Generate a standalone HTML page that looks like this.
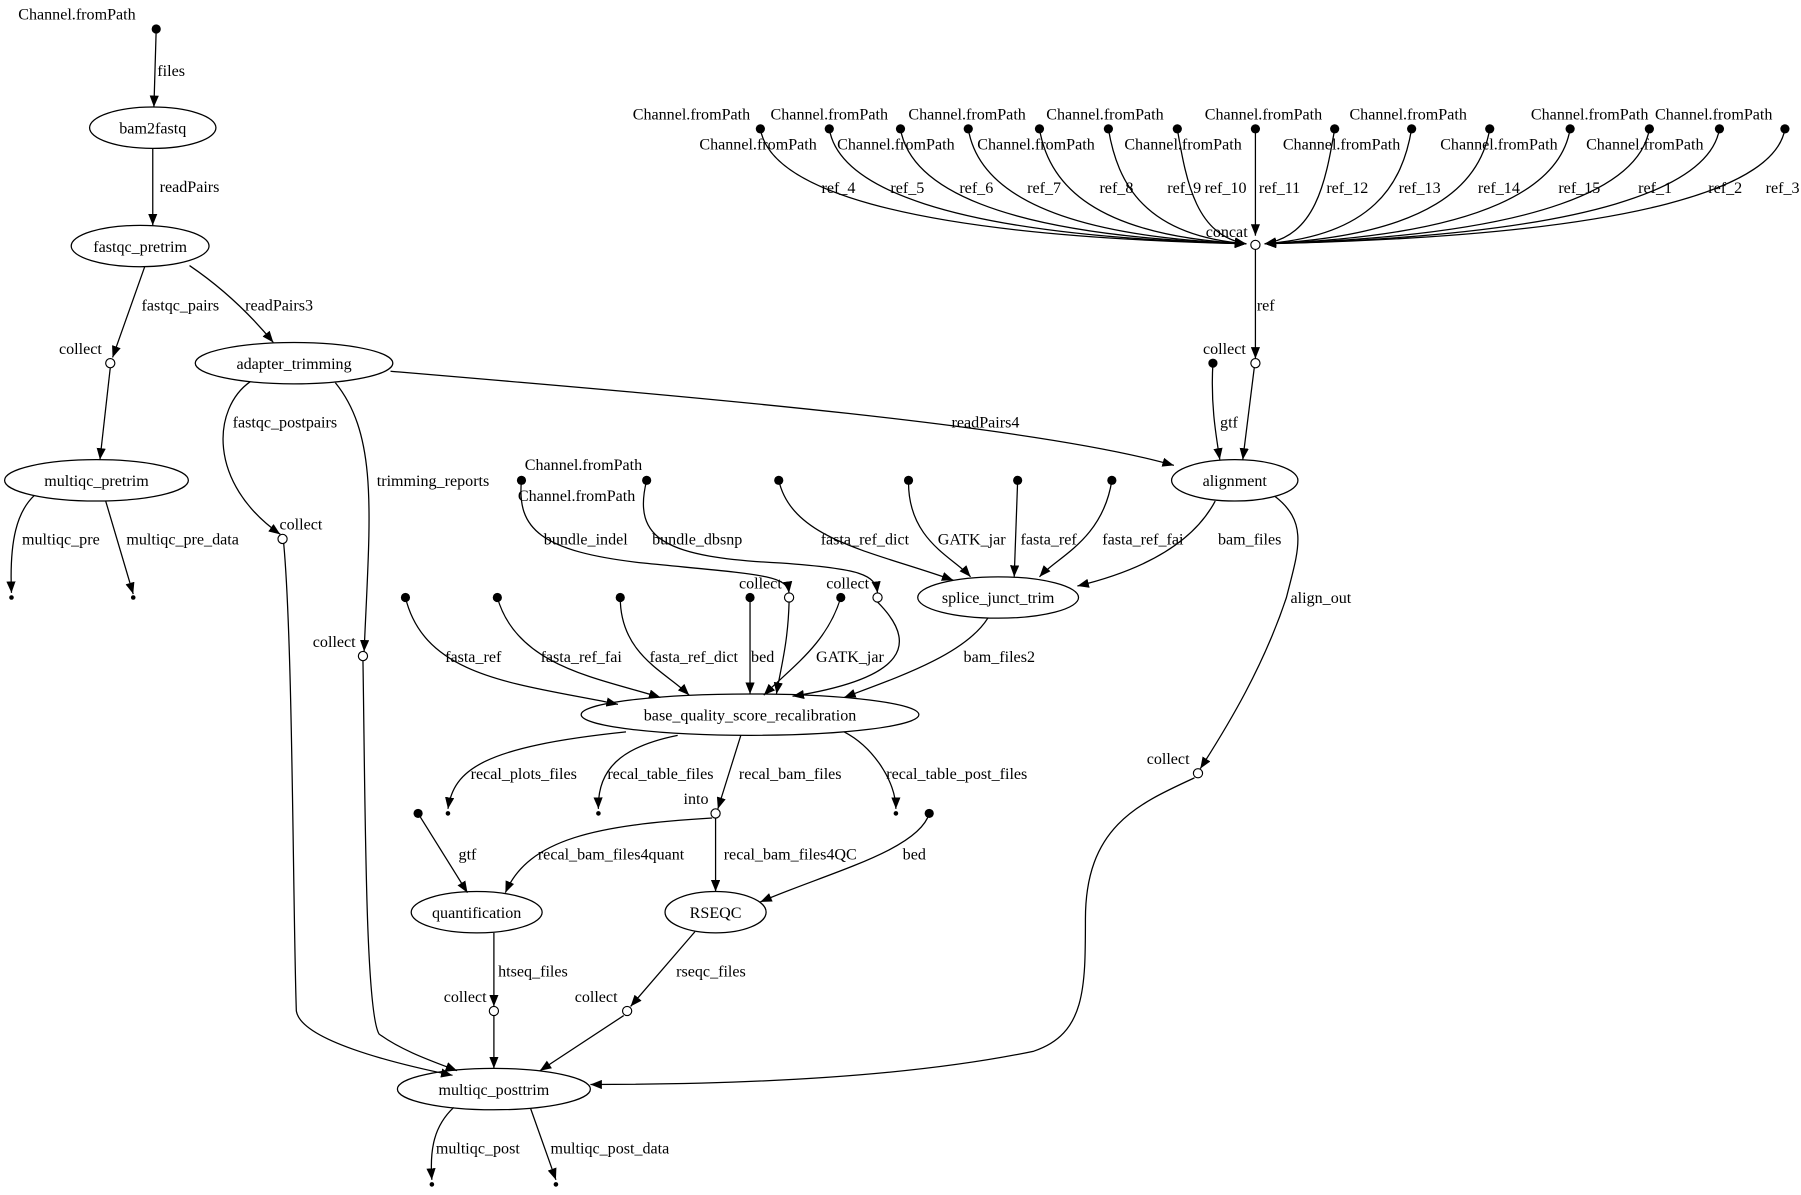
<!DOCTYPE html>
<html><head><meta charset="utf-8"><style>
html,body{margin:0;padding:0;background:#fff;}
svg{display:block;}
text{font-family:"Liberation Serif",serif;font-size:14px;fill:#000;text-anchor:middle;}
.e{fill:none;stroke:#000;stroke-width:1.1;}
.n{fill:none;stroke:#000;stroke-width:1.1;}
</style></head><body>
<svg id="s" width="1801" height="1195" viewBox="0 0 1568 1040" xmlns="http://www.w3.org/2000/svg">
<defs><marker id="a" markerUnits="userSpaceOnUse" markerWidth="11" markerHeight="8" refX="10" refY="4" orient="auto"><path d="M0,0 L10,4 L0,8 z" fill="#000"/></marker></defs>
<g id="edges">
<path class="e" marker-end="url(#a)" d="M136,25 L134,93"/>
<path class="e" marker-end="url(#a)" d="M133,129 L133,196"/>
<path class="e" marker-end="url(#a)" d="M126,232 L98,311"/>
<path class="e" marker-end="url(#a)" d="M165,231 C190,248 215,270 238,298"/>
<path class="e" marker-end="url(#a)" d="M96,320 L87,400"/>
<path class="e" marker-end="url(#a)" d="M30,431 C15,445 8,470 10,516"/>
<path class="e" marker-end="url(#a)" d="M92,436 L116,517"/>
<path class="e" marker-end="url(#a)" d="M218,332 C185,355 180,420 244,465"/>
<path class="e" marker-end="url(#a)" d="M292,333 C330,380 322,450 317,567"/>
<path class="e" marker-end="url(#a)" d="M340,323 C600,345 900,370 1022,405"/>
<path class="e" marker-end="url(#a)" d="M247,473 C255,560 255,790 258,880 C262,905 340,925 394,936"/>
<path class="e" marker-end="url(#a)" d="M316,575 C318,700 318,880 330,900 C350,915 380,925 398,932"/>
<path class="e" marker-end="url(#a)" d="M430,812 L430,876"/>
<path class="e" marker-end="url(#a)" d="M430,884 L430,930"/>
<path class="e" marker-end="url(#a)" d="M605,811 L549,876"/>
<path class="e" marker-end="url(#a)" d="M543,884 L470,932"/>
<path class="e" marker-end="url(#a)" d="M1040,677 C990,700 945,720 945,800 C945,860 945,900 900,915 C780,940 620,944 514,944"/>
<path class="e" marker-end="url(#a)" d="M1110,432 C1140,455 1130,480 1120,520 C1100,580 1070,630 1045,669"/>
<path class="e" marker-end="url(#a)" d="M1058,436 C1040,470 1000,495 938,510"/>
<path class="e" marker-end="url(#a)" d="M1093,217 L1093,312"/>
<path class="e" marker-end="url(#a)" d="M1092,320 L1082,400"/>
<path class="e" marker-end="url(#a)" d="M1056,316 C1054,350 1058,375 1062,400"/>
<path class="e" marker-end="url(#a)" d="M678,418 C690,470 760,480 830,505"/>
<path class="e" marker-end="url(#a)" d="M791,418 C790,470 830,485 845,502"/>
<path class="e" marker-end="url(#a)" d="M886,418 L883,502"/>
<path class="e" marker-end="url(#a)" d="M968,418 C960,470 920,485 905,502"/>
<path class="e" marker-end="url(#a)" d="M454,418 C450,460 470,480 560,490 C660,500 685,500 687,516"/>
<path class="e" marker-end="url(#a)" d="M563,418 C550,470 580,485 680,490 C750,495 762,500 764,516"/>
<path class="e" marker-end="url(#a)" d="M860,538 C840,570 780,590 735,607"/>
<path class="e" marker-end="url(#a)" d="M687,524 C686,560 680,580 676,604"/>
<path class="e" marker-end="url(#a)" d="M764,524 C800,560 790,590 690,606"/>
<path class="e" marker-end="url(#a)" d="M353,520 C370,590 450,595 538,613"/>
<path class="e" marker-end="url(#a)" d="M433,520 C450,580 520,590 575,607"/>
<path class="e" marker-end="url(#a)" d="M540,520 C540,570 580,585 600,605"/>
<path class="e" marker-end="url(#a)" d="M653,520 L653,604"/>
<path class="e" marker-end="url(#a)" d="M732,520 C720,560 690,580 665,605"/>
<path class="e" marker-end="url(#a)" d="M545,637 C420,650 395,670 390,704"/>
<path class="e" marker-end="url(#a)" d="M590,640 C540,650 520,670 521,704"/>
<path class="e" marker-end="url(#a)" d="M645,640 L625,704"/>
<path class="e" marker-end="url(#a)" d="M735,637 C760,650 780,680 780,704"/>
<path class="e" marker-end="url(#a)" d="M620,712 C520,718 460,730 440,777"/>
<path class="e" marker-end="url(#a)" d="M623,712 L623,776"/>
<path class="e" marker-end="url(#a)" d="M364,708 L407,777"/>
<path class="e" marker-end="url(#a)" d="M809,708 C800,740 720,760 662,785"/>
<path class="e" marker-end="url(#a)" d="M395,964 C378,980 374,1000 376,1027"/>
<path class="e" marker-end="url(#a)" d="M462,965 L484,1027"/>
</g>
<g id="fan"></g>
<g id="nodes">
<ellipse class="n" cx="133" cy="111" rx="55" ry="18"/>
<ellipse class="n" cx="122" cy="214" rx="60" ry="18"/>
<ellipse class="n" cx="256" cy="316" rx="86" ry="18"/>
<ellipse class="n" cx="84" cy="418" rx="80" ry="18"/>
<ellipse class="n" cx="430" cy="948" rx="84" ry="18"/>
<ellipse class="n" cx="1075" cy="418" rx="55" ry="18"/>
<ellipse class="n" cx="869" cy="520" rx="70" ry="18"/>
<ellipse class="n" cx="653" cy="622" rx="147" ry="18"/>
<ellipse class="n" cx="415" cy="794" rx="57" ry="18"/>
<ellipse class="n" cx="623" cy="794" rx="44" ry="18"/>
<g fill="#000">
<circle cx="136" cy="25" r="4"/><circle cx="1056" cy="316" r="4"/>
<circle cx="454" cy="418" r="4"/><circle cx="563" cy="418" r="4"/><circle cx="678" cy="418" r="4"/><circle cx="791" cy="418" r="4"/><circle cx="886" cy="418" r="4"/><circle cx="968" cy="418" r="4"/>
<circle cx="353" cy="520" r="4"/><circle cx="433" cy="520" r="4"/><circle cx="540" cy="520" r="4"/><circle cx="653" cy="520" r="4"/><circle cx="732" cy="520" r="4"/>
<circle cx="364" cy="708" r="4"/><circle cx="809" cy="708" r="4"/>
<circle cx="10" cy="520" r="2"/><circle cx="116" cy="520" r="2"/><circle cx="390" cy="708" r="2"/><circle cx="521" cy="708" r="2"/><circle cx="780" cy="708" r="2"/><circle cx="376" cy="1031" r="2"/><circle cx="484" cy="1031" r="2"/>
</g>
<g fill="#fff" stroke="#000" stroke-width="1">
<circle cx="96" cy="316" r="4"/><circle cx="246" cy="469" r="4"/><circle cx="316" cy="571" r="4"/><circle cx="1093" cy="316" r="4"/><circle cx="687" cy="520" r="4"/><circle cx="764" cy="520" r="4"/><circle cx="1043" cy="673" r="4"/><circle cx="623" cy="708" r="4"/><circle cx="430" cy="880" r="4"/><circle cx="546" cy="880" r="4"/>
</g>
</g>
<g id="labels">
<text x="67" y="17">Channel.fromPath</text>
<text x="133" y="116">bam2fastq</text>
<text x="122" y="219">fastqc_pretrim</text>
<text x="256" y="321">adapter_trimming</text>
<text x="84" y="423">multiqc_pretrim</text>
<text x="430" y="953">multiqc_posttrim</text>
<text x="1075" y="423">alignment</text>
<text x="869" y="525">splice_junct_trim</text>
<text x="653" y="627">base_quality_score_recalibration</text>
<text x="415" y="799">quantification</text>
<text x="623" y="799">RSEQC</text>
<text x="149" y="66">files</text>
<text x="165" y="167">readPairs</text>
<text x="157" y="270">fastqc_pairs</text>
<text x="243" y="270">readPairs3</text>
<text x="70" y="308">collect</text>
<text x="248" y="372">fastqc_postpairs</text>
<text x="377" y="423">trimming_reports</text>
<text x="262" y="461">collect</text>
<text x="291" y="563">collect</text>
<text x="53" y="474">multiqc_pre</text>
<text x="159" y="474">multiqc_pre_data</text>
<text x="858" y="372">readPairs4</text>
<text x="1066" y="308">collect</text>
<text x="1102" y="270">ref</text>
<text x="1070" y="372">gtf</text>
<text x="1068" y="206">concat</text>
<text x="508" y="409">Channel.fromPath</text>
<text x="502" y="436">Channel.fromPath</text>
<text x="510" y="474">bundle_indel</text>
<text x="607" y="474">bundle_dbsnp</text>
<text x="753" y="474">fasta_ref_dict</text>
<text x="846" y="474">GATK_jar</text>
<text x="913" y="474">fasta_ref</text>
<text x="995" y="474">fasta_ref_fai</text>
<text x="1088" y="474">bam_files</text>
<text x="1150" y="525">align_out</text>
<text x="662" y="512">collect</text>
<text x="738" y="512">collect</text>
<text x="412" y="576">fasta_ref</text>
<text x="506" y="576">fasta_ref_fai</text>
<text x="604" y="576">fasta_ref_dict</text>
<text x="664" y="576">bed</text>
<text x="740" y="576">GATK_jar</text>
<text x="870" y="576">bam_files2</text>
<text x="1017" y="665">collect</text>
<text x="456" y="678">recal_plots_files</text>
<text x="575" y="678">recal_table_files</text>
<text x="688" y="678">recal_bam_files</text>
<text x="833" y="678">recal_table_post_files</text>
<text x="606" y="700">into</text>
<text x="407" y="748">gtf</text>
<text x="532" y="748">recal_bam_files4quant</text>
<text x="688" y="748">recal_bam_files4QC</text>
<text x="796" y="748">bed</text>
<text x="464" y="850">htseq_files</text>
<text x="619" y="850">rseqc_files</text>
<text x="405" y="872">collect</text>
<text x="519" y="872">collect</text>
<text x="416" y="1004">multiqc_post</text>
<text x="531" y="1004">multiqc_post_data</text>
<text x="602" y="104">Channel.fromPath</text>
<text x="722" y="104">Channel.fromPath</text>
<text x="842" y="104">Channel.fromPath</text>
<text x="962" y="104">Channel.fromPath</text>
<text x="1100" y="104">Channel.fromPath</text>
<text x="1226" y="104">Channel.fromPath</text>
<text x="1384" y="104">Channel.fromPath</text>
<text x="1492" y="104">Channel.fromPath</text>
<text x="660" y="130">Channel.fromPath</text>
<text x="780" y="130">Channel.fromPath</text>
<text x="902" y="130">Channel.fromPath</text>
<text x="1030" y="130">Channel.fromPath</text>
<text x="1168" y="130">Channel.fromPath</text>
<text x="1305" y="130">Channel.fromPath</text>
<text x="1432" y="130">Channel.fromPath</text>
<text x="730" y="168">ref_4</text>
<text x="790" y="168">ref_5</text>
<text x="850" y="168">ref_6</text>
<text x="909" y="168">ref_7</text>
<text x="972" y="168">ref_8</text>
<text x="1031" y="168">ref_9</text>
<text x="1067" y="168">ref_10</text>
<text x="1114" y="168">ref_11</text>
<text x="1173" y="168">ref_12</text>
<text x="1236" y="168">ref_13</text>
<text x="1305" y="168">ref_14</text>
<text x="1375" y="168">ref_15</text>
<text x="1441" y="168">ref_1</text>
<text x="1502" y="168">ref_2</text>
<text x="1552" y="168">ref_3</text>
</g>
</svg>
<script>
(function(){
var xs=[662,722,784,843,905,965,1025,1093,1162,1229,1297,1367,1436,1497,1554];
var g=document.getElementById('fan'),ns='http://www.w3.org/2000/svg',h='';
xs.forEach(function(x){
  var d;
  if(x===1093){d='M1093,112 L1093,205';}
  else{
    var s=x<1093?-1:1, ex=1093+s*8;
    d='M'+x+',112 C'+(x-s*8)+',160 '+(x+(1093-x)*0.25)+',205 '+ex+',212';
  }
  h+='<path class="e" marker-end="url(#a)" d="'+d+'"/>';
  h+='<circle cx="'+x+'" cy="112" r="4" fill="#000"/>';
});
h+='<circle cx="1093" cy="213" r="4" fill="#fff" stroke="#000"/>';
g.innerHTML=h;
})();
</script>
</body></html>
